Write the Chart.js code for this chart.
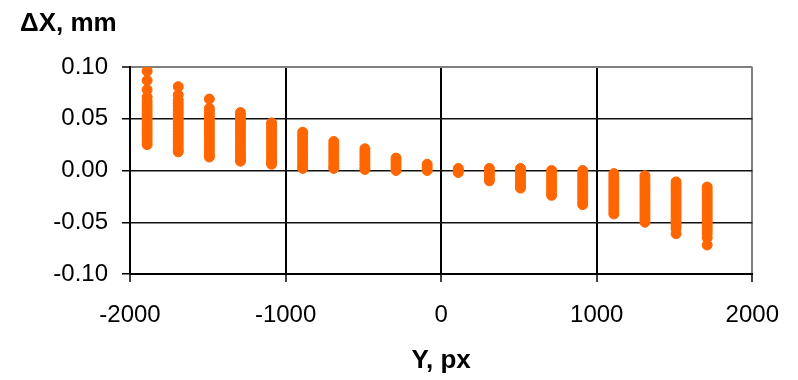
<!DOCTYPE html>
<html>
<head>
<meta charset="utf-8">
<script src="https://cdn.jsdelivr.net/npm/chart.js@4"></script>
<style>
    html, body { margin: 0; padding: 0; background: #ffffff; }
    #wrap { width: 798px; height: 380px; position: relative; }
</style>
</head>
<body>
<div id="wrap"><canvas id="chart"></canvas></div>
<script>
// Column positions along Y (px) and measured dX values (mm) for each column
const yPositions = [-1890, -1690, -1490, -1290, -1090, -890, -690, -490, -290, -90,
                    110, 310, 510, 710, 910, 1110, 1310, 1510, 1710];

const dxColumns = [
    [0.096, 0.087, 0.078, 0.071, 0.067, 0.064, 0.061, 0.058, 0.055, 0.052, 0.049, 0.046, 0.043, 0.040, 0.037, 0.034, 0.031, 0.028, 0.025],
    [0.081, 0.073, 0.068, 0.065, 0.062, 0.059, 0.056, 0.053, 0.050, 0.047, 0.044, 0.041, 0.038, 0.035, 0.032, 0.029, 0.026, 0.023, 0.020, 0.018],
    [0.069, 0.060, 0.057, 0.054, 0.051, 0.048, 0.045, 0.042, 0.039, 0.036, 0.033, 0.030, 0.027, 0.024, 0.021, 0.018, 0.015, 0.013],
    [0.056, 0.053, 0.050, 0.047, 0.044, 0.041, 0.038, 0.035, 0.032, 0.029, 0.026, 0.023, 0.020, 0.017, 0.014, 0.011, 0.009],
    [0.046, 0.043, 0.040, 0.037, 0.034, 0.031, 0.028, 0.025, 0.022, 0.019, 0.016, 0.013, 0.010, 0.008, 0.006],
    [0.037, 0.034, 0.031, 0.028, 0.025, 0.022, 0.019, 0.016, 0.013, 0.010, 0.007, 0.004, 0.002],
    [0.028, 0.025, 0.022, 0.019, 0.016, 0.013, 0.010, 0.007, 0.004, 0.002],
    [0.021, 0.018, 0.015, 0.012, 0.009, 0.006, 0.003, 0.001],
    [0.012, 0.009, 0.006, 0.003, 0.000],
    [0.006, 0.003, 0.000],
    [0.002, 0.000, -0.002],
    [0.002, -0.001, -0.004, -0.007, -0.010],
    [0.002, -0.001, -0.004, -0.007, -0.010, -0.013, -0.015, -0.017],
    [0.000, -0.003, -0.006, -0.009, -0.012, -0.015, -0.018, -0.021, -0.024],
    [0.000, -0.003, -0.006, -0.009, -0.012, -0.015, -0.018, -0.021, -0.024, -0.027, -0.030, -0.033],
    [-0.003, -0.006, -0.009, -0.012, -0.015, -0.018, -0.021, -0.024, -0.027, -0.030, -0.033, -0.036, -0.039, -0.042],
    [-0.005, -0.008, -0.011, -0.014, -0.017, -0.020, -0.023, -0.026, -0.029, -0.032, -0.035, -0.038, -0.041, -0.044, -0.047, -0.050],
    [-0.011, -0.014, -0.017, -0.020, -0.023, -0.026, -0.029, -0.032, -0.035, -0.038, -0.041, -0.044, -0.047, -0.050, -0.053, -0.056, -0.061],
    [-0.016, -0.019, -0.022, -0.025, -0.028, -0.031, -0.034, -0.037, -0.040, -0.043, -0.046, -0.049, -0.052, -0.055, -0.058, -0.061, -0.065, -0.072]
];

const xTicks = [-2000, -1000, 0, 1000, 2000];
const yTicks = [-0.10, -0.05, 0.00, 0.05, 0.10];

const yTitle = '\u0394X, mm';
const xTitle = 'Y, px';

// flatten columns into scatter points
const points = [];
yPositions.forEach((x, i) => {
    dxColumns[i].forEach(v => points.push({ x: x, y: v }));
});

const FONT = "'Liberation Sans', Arial, sans-serif";
const ORANGE = '#ff6600';

new Chart(document.getElementById('chart'), {
    type: 'scatter',
    data: {
        datasets: [{
            data: points,
            backgroundColor: ORANGE,
            borderColor: ORANGE,
            borderWidth: 1,
            pointRadius: 5,
            pointHoverRadius: 5
        }]
    },
    options: {
        responsive: true,
        maintainAspectRatio: false,
        animation: false,
        layout: {
            padding: { left: 20, right: 44, top: 0, bottom: 0 }
        },
        plugins: {
            legend: { display: false },
            tooltip: { enabled: false },
            title: {
                display: true,
                text: yTitle,
                align: 'start',
                color: '#000',
                font: { family: FONT, size: 26, weight: 'bold', lineHeight: 1.2 },
                padding: { top: 8, bottom: 27.8 }
            }
        },
        scales: {
            x: {
                type: 'linear',
                min: -2000,
                max: 2000,
                afterBuildTicks: (scale) => {
                    scale.ticks = xTicks.map(v => ({ value: v }));
                },
                afterFit: (scale) => { scale.height = 106; },
                ticks: {
                    color: '#000',
                    font: { family: FONT, size: 24 },
                    padding: 19,
                    maxRotation: 0,
                    callback: (v) => String(v)
                },
                grid: {
                    color: (ctx) => (ctx.tick && ctx.tick.value === 2000) ? '#808080' : '#000',
                    lineWidth: 2,
                    tickLength: 8,
                    tickColor: '#000',
                    tickWidth: 1.5
                },
                border: { display: true, color: '#000', width: 2 },
                title: {
                    display: true,
                    text: xTitle,
                    color: '#000',
                    font: { family: FONT, size: 26, weight: 'bold', lineHeight: 1.2 },
                    padding: { top: 0, bottom: 4 }
                }
            },
            y: {
                type: 'linear',
                min: -0.10,
                max: 0.10,
                afterBuildTicks: (scale) => {
                    scale.ticks = yTicks.map(v => ({ value: v }));
                },
                afterFit: (scale) => { scale.width = 110; },
                ticks: {
                    color: '#000',
                    font: { family: FONT, size: 24 },
                    padding: 14,
                    callback: (v) => Number(v).toFixed(2)
                },
                grid: {
                    color: (ctx) => (ctx.tick && Math.abs(ctx.tick.value - 0.10) < 1e-9) ? '#808080' : '#111',
                    lineWidth: (ctx) => (ctx.tick && Math.abs(ctx.tick.value - 0.10) < 1e-9) ? 2 : 1.5,
                    tickLength: 8,
                    tickColor: '#000',
                    tickWidth: 1.5
                },
                border: { display: true, color: '#000', width: 2 }
            }
        }
    }
});
</script>
</body>
</html>
